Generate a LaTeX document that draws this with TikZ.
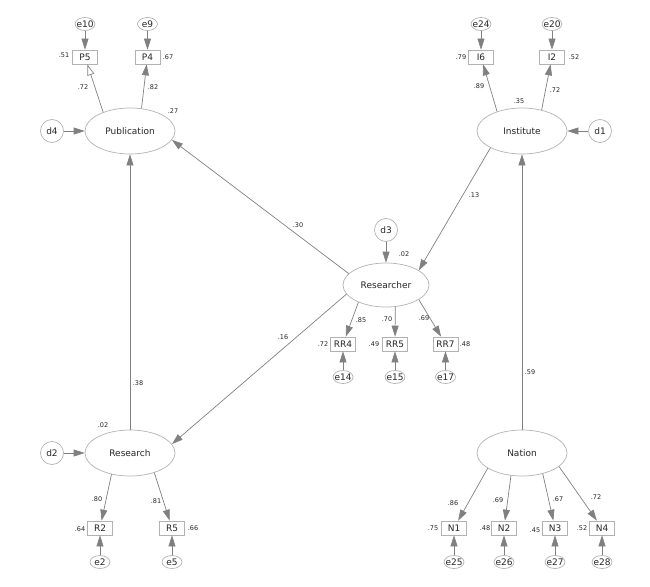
\documentclass[tikz,border=0pt]{standalone}
\usepackage{fontspec}
\setmainfont{DejaVu Sans}
\usetikzlibrary{shapes.geometric,arrows.meta}

\begin{document}
\begin{tikzpicture}[x=1pt,y=-1pt,
    every node/.style={text=black!85},
    latent/.style={ellipse,draw=black!30,line width=0.7pt,minimum width=90pt,minimum height=46pt,inner sep=0pt,font=\fontsize{9}{10}\selectfont},
    item/.style={rectangle,draw=black!30,line width=0.7pt,minimum width=25pt,minimum height=14pt,inner sep=0pt,font=\fontsize{9}{10}\selectfont},
    resid/.style={ellipse,draw=black!30,line width=0.7pt,minimum width=20pt,minimum height=13pt,inner xsep=-1.8pt,inner ysep=0pt,font=\fontsize{9}{10}\selectfont},
    dist/.style={circle,draw=black!30,line width=0.7pt,minimum size=23pt,inner sep=0pt,font=\fontsize{9}{10}\selectfont},
    est/.style={inner sep=0pt,font=\fontsize{6.5}{7}\selectfont},
    arr/.style={draw=black!50,line width=0.7pt,-{Triangle[length=11pt,width=7pt,fill=black!50]}},
    openarr/.style={draw=black!50,line width=0.7pt,-{Triangle[length=11pt,width=7pt,fill=white]}}
  ]
	\useasboundingbox (0,0) rectangle (650,586);
	% latent variables
	\node[latent] (pub) at (130,131) {Publication};
	\node[latent] (inst) at (522,131) {Institute};
	\node[latent,minimum width=86pt,minimum height=44pt] (rsr) at (386,285) {Researcher};
	\node[latent] (rsh) at (130,453) {Research};
	\node[latent] (nat) at (522,453) {Nation};
	% disturbances
	\node[dist] (d4) at (52,131) {d4};
	\node[dist] (d1) at (600,131) {d1};
	\node[dist] (d3) at (386,230) {d3};
	\node[dist] (d2) at (52,453) {d2};
	% indicators and errors
	\node[item] (p5) at (85,57) {P5};
	\node[item] (p4) at (147.5,57) {P4};
	\node[resid] (e10) at (85,24) {e10};
	\node[resid] (e9) at (147.5,24) {e9};
	\node[item] (i6) at (481,57) {I6};
	\node[item] (i2) at (552,57) {I2};
	\node[resid] (e24) at (481,24) {e24};
	\node[resid] (e20) at (552,24) {e20};
	\node[item] (rr4) at (343,344) {RR4};
	\node[item] (rr5) at (395,344) {RR5};
	\node[item] (rr7) at (445.5,344) {RR7};
	\node[resid] (e14) at (343,377) {e14};
	\node[resid] (e15) at (395,377) {e15};
	\node[resid] (e17) at (445.5,377) {e17};
	\node[item] (r2) at (100,528) {R2};
	\node[item] (r5) at (172,528) {R5};
	\node[resid] (e2) at (100,562) {e2};
	\node[resid] (e5) at (172,562) {e5};
	\node[item] (n1) at (454,528) {N1};
	\node[item] (n2) at (504,528) {N2};
	\node[item] (n3) at (555,528) {N3};
	\node[item] (n4) at (602,528) {N4};
	\node[resid] (e25) at (454,562) {e25};
	\node[resid] (e26) at (504,562) {e26};
	\node[resid] (e27) at (555,562) {e27};
	\node[resid] (e28) at (602,562) {e28};
	% structural paths
	\draw[arr] (rsr.163) -- (pub.348);
	\draw[arr] (inst.208) -- (rsr.24);
	\draw[arr] (rsr.193) -- (rsh.12);
	\draw[arr] (rsh) -- (pub);
	\draw[arr] (nat) -- (inst);
	\draw[arr] (d4) -- (pub);
	\draw[arr] (d2) -- (rsh);
	\draw[arr] (d1) -- (inst);
	\draw[arr] (d3) -- (rsr);
	% measurement paths
	\draw[openarr] (pub.145) -- (p5);
	\draw[arr] (pub.63) -- (p4);
	\draw[arr] (inst.142) -- (i6);
	\draw[arr] (inst.47) -- (i2);
	\draw[arr] (rsr.212) -- (rr4);
	\draw[arr] (rsr.293) -- (rr5);
	\draw[arr] (rsr.336) -- (rr7);
	\draw[arr] (rsh.229) -- (r2);
	\draw[arr] (rsh.321) -- (r5);
	\draw[arr] (nat.204) -- (n1);
	\draw[arr] (nat.244) -- (n2);
	\draw[arr] (nat.315) -- (n3);
	\draw[arr] (nat.340) -- (n4);
	\foreach \e/\v in {e10/p5,e9/p4,e24/i6,e20/i2,e14/rr4,e15/rr5,e17/rr7,e2/r2,e5/r5,e25/n1,e26/n2,e27/n3,e28/n4}
		\draw[arr] (\e) -- (\v);
	% estimates
	\node[est] (sp5) at (64,55) {.51};
	\node[est] (sp4) at (168,57) {.67};
	\node[est] (lp5) at (83,87) {.72};
	\node[est] (lp4) at (153,87) {.82};
	\node[est] (spub) at (173,111) {.27};
	\node[est] (si6) at (461,57) {.79};
	\node[est] (si2) at (574,57) {.52};
	\node[est] (li6) at (479,86) {.89};
	\node[est] (li2) at (555,90) {.72};
	\node[est] (sinst) at (519,101) {.35};
	\node[est] (srsr) at (404,254) {.02};
	\node[est] (brp) at (298,225) {.30};
	\node[est] (bir) at (474,195) {.13};
	\node[est] (brr) at (283,337) {.16};
	\node[est] (lrr4) at (361,320) {.85};
	\node[est] (lrr5) at (387,319) {.70};
	\node[est] (lrr7) at (424,318) {.69};
	\node[est] (srr4) at (323,344) {.72};
	\node[est] (srr5) at (374,344) {.49};
	\node[est] (srr7) at (465,344) {.48};
	\node[est] (srsh) at (103,425) {.02};
	\node[est] (lr2) at (97,499) {.80};
	\node[est] (lr5) at (156,501) {.81};
	\node[est] (sr2) at (80,529) {.64};
	\node[est] (sr5) at (193,528) {.66};
	\node[est] (bsp) at (138,383) {.38};
	\node[est] (ln1) at (453,503) {.86};
	\node[est] (ln2) at (498,500) {.69};
	\node[est] (ln3) at (558,499) {.67};
	\node[est] (ln4) at (596,497) {.72};
	\node[est] (sn1) at (433,528) {.75};
	\node[est] (sn2) at (485,528) {.48};
	\node[est] (sn3) at (535,530) {.45};
	\node[est] (sn4) at (582,528) {.52};
	\node[est] (bni) at (530,372) {.59};
\end{tikzpicture}
\end{document}
